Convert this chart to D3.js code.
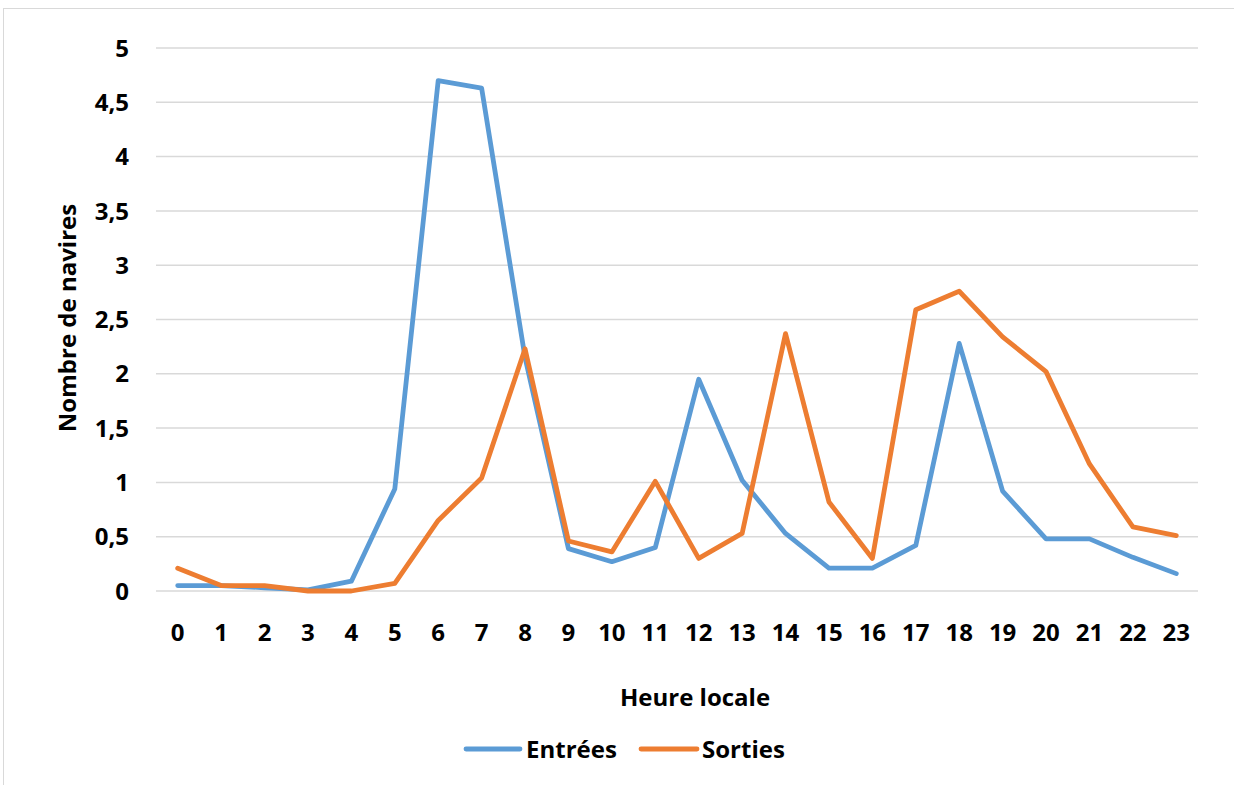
<!DOCTYPE html>
<html><head><meta charset="utf-8">
<script src="https://cdn.jsdelivr.net/npm/d3@7"></script>
<style>body{margin:0;background:#fff}svg{display:block}text{font-family:"Open Sans",Lato,sans-serif;font-weight:bold;fill:#000}</style>
</head><body><svg id="c" width="1234" height="785"></svg>
<script>
const hours = ["0","1","2","3","4","5","6","7","8","9","10","11","12","13","14","15","16","17","18","19","20","21","22","23"];
const entrees = [0.05,0.05,0.03,0.01,0.09,0.94,4.70,4.63,2.15,0.39,0.27,0.40,1.95,1.02,0.53,0.21,0.21,0.42,2.28,0.92,0.48,0.48,0.31,0.16];
const sorties = [0.21,0.05,0.05,0.0,0.0,0.07,0.65,1.04,2.23,0.46,0.36,1.01,0.30,0.53,2.37,0.82,0.30,2.59,2.76,2.34,2.02,1.17,0.59,0.51];
const yTicks = [0,0.5,1,1.5,2,2.5,3,3.5,4,4.5,5];
const seriesNames = ["Entrées","Sorties"];
const colors = ["#5B9BD5","#ED7D31"];

const svg = d3.select("#c");
svg.append("rect").attr("x",3.5).attr("y",8.5).attr("width",1240).attr("height",790).attr("fill","#fff").attr("stroke","#d9d9d9");
const L=156,R=1198,T=48,B=591;
const x = d3.scaleBand().domain(hours).range([L,R]);
const y = d3.scaleLinear().domain([0,5]).range([B,T]);
const fmt = v => String(v).replace(".",",");
const FS = "24px";

const g = svg.append("g");
g.selectAll("line.grid").data(yTicks).join("line").attr("class","grid")
 .attr("x1",L).attr("x2",R).attr("y1",d=>y(d)).attr("y2",d=>y(d))
 .attr("stroke","#d9d9d9").attr("stroke-width",1.5);
g.selectAll("text.yt").data(yTicks).join("text").attr("class","yt")
 .attr("x",129).attr("y",d=>y(d)).attr("dy","0.36em").attr("text-anchor","end")
 .style("font-size",FS).text(fmt);
g.selectAll("text.xt").data(hours).join("text").attr("class","xt")
 .attr("x",d=>x(d)+x.bandwidth()/2).attr("y",632).attr("dy","0.36em").attr("text-anchor","middle")
 .style("font-size",FS).text(d=>d);
svg.append("text").attr("x",695).attr("y",697).attr("dy","0.36em").attr("text-anchor","middle").style("font-size",FS).text("Heure locale");
svg.append("text").attr("transform","translate(67,318) rotate(-90)").attr("dy","0.36em").attr("text-anchor","middle").style("font-size",FS).text("Nombre de navires");

const line = d3.line().x((d,i)=>x(hours[i])+x.bandwidth()/2).y(d=>y(d));
[entrees,sorties].forEach((s,k)=>{
  g.append("path").datum(s).attr("d",line).attr("fill","none").attr("stroke",colors[k])
   .attr("stroke-width",4.8).attr("stroke-linejoin","round").attr("stroke-linecap","round");
});

const leg = [{x1:466,x2:520,tx:526},{x1:641,x2:697,tx:702}];
seriesNames.forEach((n,k)=>{
  svg.append("line").attr("x1",leg[k].x1).attr("x2",leg[k].x2).attr("y1",749).attr("y2",749)
   .attr("stroke",colors[k]).attr("stroke-width",4.8).attr("stroke-linecap","round");
  svg.append("text").attr("x",leg[k].tx).attr("y",749).attr("dy","0.36em").style("font-size",FS).text(n);
});
</script></body></html>
